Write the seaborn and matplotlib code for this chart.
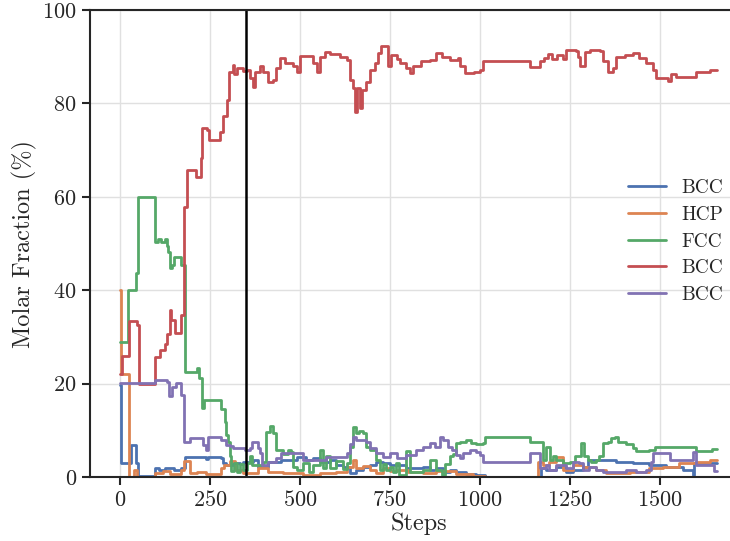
import matplotlib
matplotlib.use("Agg")
import matplotlib.pyplot as plt
import numpy as np
import pandas as pd
import seaborn as sns

# phase labels, in plotting order
LABELS = ['BCC', 'HCP', 'FCC', 'BCC', 'BCC']

# breakpoints (step, molar fraction %), drawn as steps-post
blue_steps = [0, 2, 30, 45, 50, 97, 110, 125, 150, 170, 181, 231, 239, 245, 282, 287, 296, 315, 333,
              343, 370, 384, 412, 449, 491, 518, 537, 556, 583, 602, 620, 639, 657, 676, 694, 713, 731,
              750, 796, 843, 861, 880, 898, 917, 935, 963, 991, 1014, 1171, 1185, 1213, 1240, 1260,
              1287, 1300, 1333, 1380, 1426, 1472, 1518, 1565, 1593, 1597, 1660]
blue_vals = [19.7, 3.0, 6.9, 3.0, 0.3, 1.9, 1.5, 1.9, 1.5, 1.9, 4.3, 4.3, 3.8, 4.2, 4.0, 3.0, 2.6, 3.0, 2.7,
             3.3, 3.6, 2.2, 3.3, 3.6, 4.3, 3.6, 4.0, 3.3, 3.6, 2.6, 2.2, 0.9, 1.5, 2.2, 2.6, 3.3, 3.0,
             2.6, 1.9, 2.2, 1.5, 1.9, 1.1, 1.5, 1.1, 0.7, 0.4, 0.0, 2.0, 1.5, 2.2, 1.0, 1.5,
             2.2, 3.6, 3.6, 3.3, 2.9, 2.6, 2.2, 1.5, 0.4, 3.0, 3.0]

orange_steps = [0, 2, 26, 40, 48, 97, 120, 140, 170, 178, 195, 215, 240, 282, 290, 305, 320, 343, 384,
                412, 454, 509, 556, 602, 630, 648, 657, 676, 694, 713, 731, 750, 770, 800, 843, 880,
                935, 981, 1014, 1162, 1176, 1194, 1213, 1231, 1260, 1287, 1324, 1352, 1417, 1472,
                1509, 1555, 1602, 1639, 1660]
orange_vals = [40.0, 22.0, 0.0, 1.5, 0.0, 0.8, 1.2, 0.6, 1.5, 3.4, 0.8, 1.1, 0.6, 2.0, 2.6, 3.4, 1.5, 0.8, 1.9,
               1.1, 0.8, 0.5, 0.8, 1.1, 2.2, 3.6, 1.9, 2.4, 1.4, 0.8, 1.9, 1.3, 1.6, 1.0, 0.8, 1.2,
               0.6, 0.3, 0.0, 3.3, 2.6, 3.3, 4.3, 1.5, 2.6, 2.2, 1.5, 0.8, 1.1, 1.9,
               2.2, 2.9, 3.2, 3.6, 3.6]

green_steps = [0, 23, 45, 51, 97, 105, 115, 125, 130, 135, 140, 145, 150, 165, 170, 180, 213, 220, 227,
               234, 278, 282, 292, 296, 301, 306, 310, 318, 326, 335, 343, 352, 363, 368, 398, 407, 416,
               426, 435, 454, 466, 476, 482, 491, 510, 525, 537, 555, 565, 574, 583, 600, 620, 630,
               640, 648, 655, 665, 676, 685, 694, 713, 722, 731, 740, 750, 760, 768, 775, 796, 805,
               843, 862, 880, 894, 903, 917, 926, 935, 944, 963, 977, 991, 1009, 1014, 1134, 1139,
               1167, 1176, 1185, 1195, 1204, 1213, 1231, 1250, 1264, 1283, 1290, 1300, 1310, 1324,
               1333, 1343, 1357, 1366, 1375, 1384, 1407, 1426, 1435, 1472, 1486, 1565, 1602, 1645, 1660]
green_vals = [29.0, 40.0, 43.6, 60.0, 50.4, 51.0, 50.4, 51.0, 49.4, 48.2, 44.7, 45.5, 47.2, 47.2, 45.4, 22.5,
              23.3, 21.2, 14.8, 16.5, 16.5, 14.6, 11.8, 9.0, 7.5, 4.6, 1.2, 3.0, 1.0, 2.8, 1.5, 3.0, 4.4,
              2.5, 3.2, 9.7, 10.9, 9.4, 5.8, 5.0, 5.8, 5.4, 2.2, 1.5, 3.0, 1.0, 2.5, 5.8, 2.0, 4.4, 2.0,
              3.5, 1.8, 3.0, 6.5, 10.8, 9.4, 9.8, 9.4, 6.5, 5.8, 3.6, 1.5, 2.8, 1.5, 2.2, 1.0, 3.0, 0.5,
              5.5, 1.0, 1.5, 3.6, 1.5, 0.5, 2.8, 4.6, 5.0, 7.2, 7.6, 7.9, 7.2, 7.0, 7.2, 8.6, 8.6, 7.6,
              7.6, 3.6, 6.5, 3.6, 4.6, 3.6, 3.0, 3.3, 4.6, 7.2, 4.6, 3.6, 3.3, 3.6, 4.6, 7.2, 7.6, 8.3,
              8.6, 7.6, 7.0, 6.2, 5.5, 5.8, 6.5, 6.5, 5.5, 6.0, 6.0]

red_steps = [0, 7, 26, 47, 54, 97, 111, 125, 130, 139, 143, 153, 169, 178, 186, 211, 225, 228, 242, 247,
             278, 287, 297, 303, 314, 318, 325, 343, 352, 363, 369, 375, 389, 398, 412, 426, 435, 444,
             458, 481, 491, 500, 537, 548, 556, 569, 583, 611, 630, 639, 648, 653, 659, 667, 674, 685,
             694, 708, 717, 727, 745, 754, 769, 778, 796, 806, 815, 838, 861, 880, 894, 917, 940, 944,
             958, 985, 1000, 1009, 1139, 1167, 1180, 1190, 1200, 1215, 1231, 1240, 1268, 1273, 1278,
             1292, 1306, 1334, 1343, 1357, 1370, 1380, 1403, 1426, 1444, 1463, 1481, 1490, 1523, 1532,
             1546, 1597, 1602, 1640, 1660]
red_vals = [22.0, 26.0, 33.4, 32.5, 20.0, 25.8, 27.2, 28.5, 30.7, 35.8, 33.6, 30.9, 34.6, 57.8, 65.7, 64.3,
            68.3, 74.7, 74.3, 72.2, 73.9, 77.3, 80.7, 86.8, 88.2, 86.3, 87.6, 87.0, 87.2, 85.5, 83.5, 86.8,
            88.0, 86.8, 84.5, 85.0, 87.5, 89.8, 88.6, 88.0, 86.8, 90.2, 88.6, 86.8, 90.0, 91.0, 90.6, 90.0,
            89.3, 85.0, 83.2, 78.2, 83.2, 79.0, 82.8, 84.5, 87.2, 88.6, 90.8, 92.2, 88.0, 90.4, 89.5, 88.6,
            87.5, 86.5, 88.0, 89.0, 89.3, 90.8, 90.0, 89.3, 89.8, 88.0, 86.5, 86.8, 87.2, 89.0, 87.7, 89.0,
            89.8, 90.5, 89.5, 90.3, 89.6, 91.5, 91.3, 90.0, 88.0, 91.0, 91.5, 91.3, 89.0, 86.8, 87.5, 90.0,
            90.3, 90.8, 89.8, 88.6, 87.2, 85.4, 84.9, 86.4, 85.7, 85.7, 86.8, 87.2, 87.2]

purple_steps = [0, 97, 130, 136, 144, 156, 171, 179, 194, 231, 239, 245, 282, 296, 306, 315, 347, 361, 366,
                384, 389, 394, 412, 435, 449, 491, 509, 556, 574, 630, 639, 648, 657, 685, 694, 713, 731,
                750, 770, 796, 824, 843, 861, 875, 889, 898, 912, 922, 935, 945, 954, 972, 990, 1000,
                1009, 1139, 1167, 1185, 1194, 1213, 1240, 1259, 1277, 1287, 1305, 1324, 1343, 1407, 1435,
                1463, 1477, 1481, 1528, 1593, 1600, 1650, 1660]
purple_vals = [20.1, 20.8, 20.3, 17.4, 19.3, 20.1, 17.5, 7.6, 8.3, 6.9, 5.8, 8.6, 8.0, 6.9, 6.7, 6.2, 5.8, 6.2,
               7.6, 6.2, 5.1, 2.6, 3.3, 4.0, 5.1, 5.1, 3.6, 3.6, 4.3, 5.1, 7.0, 8.6, 7.9, 7.6, 6.2, 5.1, 4.3,
               5.1, 4.0, 4.8, 5.8, 6.5, 7.2, 6.5, 8.6, 7.9, 6.5, 5.8, 4.7, 4.0, 5.1, 5.8, 5.4, 4.7,
               3.3, 5.1, 1.9, 2.6, 1.5, 2.6, 1.9, 3.3, 3.0, 1.5, 2.2, 1.5, 1.1, 1.5, 1.1,
               1.5, 3.3, 5.2, 3.6, 5.4, 2.6, 1.2, 1.2]

MARKER_STEP = 350  # vertical reference line


def run():
    sns.set_theme(style="ticks", rc={"axes.grid": True, "grid.color": ".88",
                                     "axes.edgecolor": ".15", "axes.linewidth": 1.5,
                                     "xtick.major.width": 1.5, "ytick.major.width": 1.5})
    plt.rcParams['font.family'] = ['cmr10', 'DejaVu Serif']
    plt.rcParams['axes.formatter.use_mathtext'] = True

    fig = plt.figure(figsize=(7.3, 5.41), dpi=100)
    ax = fig.add_axes([90 / 730, 64 / 541, 657 / 730, 467 / 541])

    colors = sns.color_palette("deep", 5)
    series = [(blue_steps, blue_vals), (orange_steps, orange_vals), (green_steps, green_vals),
              (red_steps, red_vals), (purple_steps, purple_vals)]
    for (st, vals), lab, col in zip(series, LABELS, colors):
        df = pd.DataFrame({'Steps': st, 'frac': vals})
        sns.lineplot(data=df, x='Steps', y='frac', ax=ax, color=col, label=lab,
                     drawstyle='steps-post', estimator=None, linewidth=2.0)

    ax.axvline(MARKER_STEP, color='black', linewidth=1.8)
    ax.set_xlim(-83, 1743)
    ax.set_ylim(0, 100)
    ax.set_xticks([0, 250, 500, 750, 1000, 1250, 1500])
    ax.set_yticks([0, 20, 40, 60, 80, 100])
    ax.set_xlabel('Steps', fontsize=17.5, labelpad=2)
    ax.set_ylabel('Molar Fraction (%)', fontsize=17.5)
    ax.tick_params(labelsize=16)
    ax.legend(loc='center left', bbox_to_anchor=(0.792, 0.504), frameon=False, fontsize=14,
              handlelength=1.95, handletextpad=0.8, labelspacing=0.45)

    fig.savefig('out.png', dpi=100)


if __name__ == "__main__":
    run()
